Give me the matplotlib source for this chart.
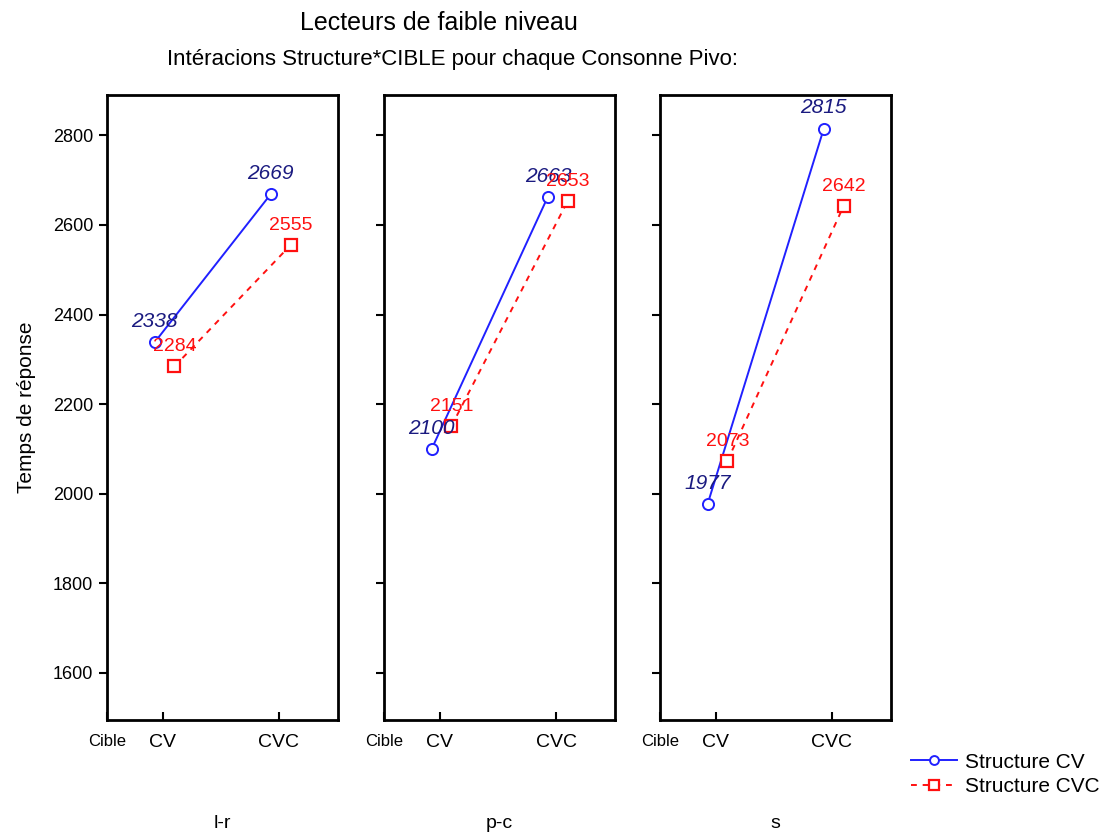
import numpy as np
import matplotlib
matplotlib.use("Agg")
import matplotlib.pyplot as plt

plt.rcParams['font.family'] = ['Liberation Sans', 'DejaVu Sans']

# consonnes pivot (un panneau chacune)
pivots = ["l-r", "p-c", "s"]
cibles = ["CV", "CVC"]

# temps de reponse moyens, [cible CV, cible CVC]
struct_cv = [[2338, 2669], [2100, 2663], [1977, 2815]]
struct_cvc = [[2284, 2555], [2151, 2653], [2073, 2642]]

yticks = [1600, 1800, 2000, 2200, 2400, 2600, 2800]

fig = plt.figure(figsize=(11.09, 8.34), dpi=100)

lefts = [0.0965, 0.3463, 0.5951]
bottom, width, height = 0.1367, 0.2085, 0.7494
x = np.arange(len(cibles))

axes = []
for i, piv in enumerate(pivots):
    ax = fig.add_axes([lefts[i], bottom, width, height])
    axes.append(ax)

    l1, = ax.plot(x - 0.07, struct_cv[i], color='#2020ff', lw=1.4, ls='-',
                  marker='o', ms=8, mfc='white', mec='#2020ff', mew=1.4,
                  label='Structure CV')
    l2, = ax.plot(x + 0.10, struct_cvc[i], color='#ff1010', lw=1.4, ls=(0, (3, 3)),
                  marker='s', ms=9, mfc='white', mec='#ff1010', mew=1.6,
                  label='Structure CVC')

    for xi, v in zip(x, struct_cv[i]):
        ax.annotate(str(v), (xi - 0.07, v), xytext=(0, 8), textcoords='offset points',
                    ha='center', va='bottom', fontsize=15, style='italic', color='#1a1a80')
    for xi, v in zip(x, struct_cvc[i]):
        ax.annotate(str(v), (xi + 0.10, v), xytext=(0, 8), textcoords='offset points',
                    ha='center', va='bottom', fontsize=14, color='#ff1010')

    ax.set_xlim(-0.48, 1.51)
    ax.set_ylim(1495, 2890)
    ax.set_yticks(yticks)
    ax.set_xticks([-0.48, 0, 1])
    ax.set_xticklabels(['Cible'] + cibles)
    ax.get_xticklabels()[0].set_fontsize(12)
    for lab in ax.get_xticklabels()[1:]:
        lab.set_fontsize(14)
    ax.tick_params(axis='x', direction='in', length=6, width=1.5, pad=10)
    ax.tick_params(axis='y', direction='out', length=6, width=1.5, labelsize=13, pad=4)
    for sp in ax.spines.values():
        sp.set_linewidth(2)
    if i == 0:
        ax.set_ylabel('Temps de réponse', fontsize=15, labelpad=12)
    else:
        ax.set_yticklabels([])
    ax.text(0.5, -0.165, piv, transform=ax.transAxes, ha='center', va='center', fontsize=14)

fig.text(0.396, 0.972, 'Lecteurs de faible niveau', ha='center', va='center', fontsize=18)
fig.text(0.408, 0.929, 'Intéracions Structure*CIBLE pour chaque Consonne Pivo:',
         ha='center', va='center', fontsize=16)

fig.legend(handles=[l1, l2], loc='upper left', bbox_to_anchor=(0.812, 0.11),
           frameon=False, fontsize=15, handlelength=2.2, labelspacing=0.25,
           handletextpad=0.4, borderpad=0, markerscale=0.8)

fig.savefig('out.png', dpi=100)
